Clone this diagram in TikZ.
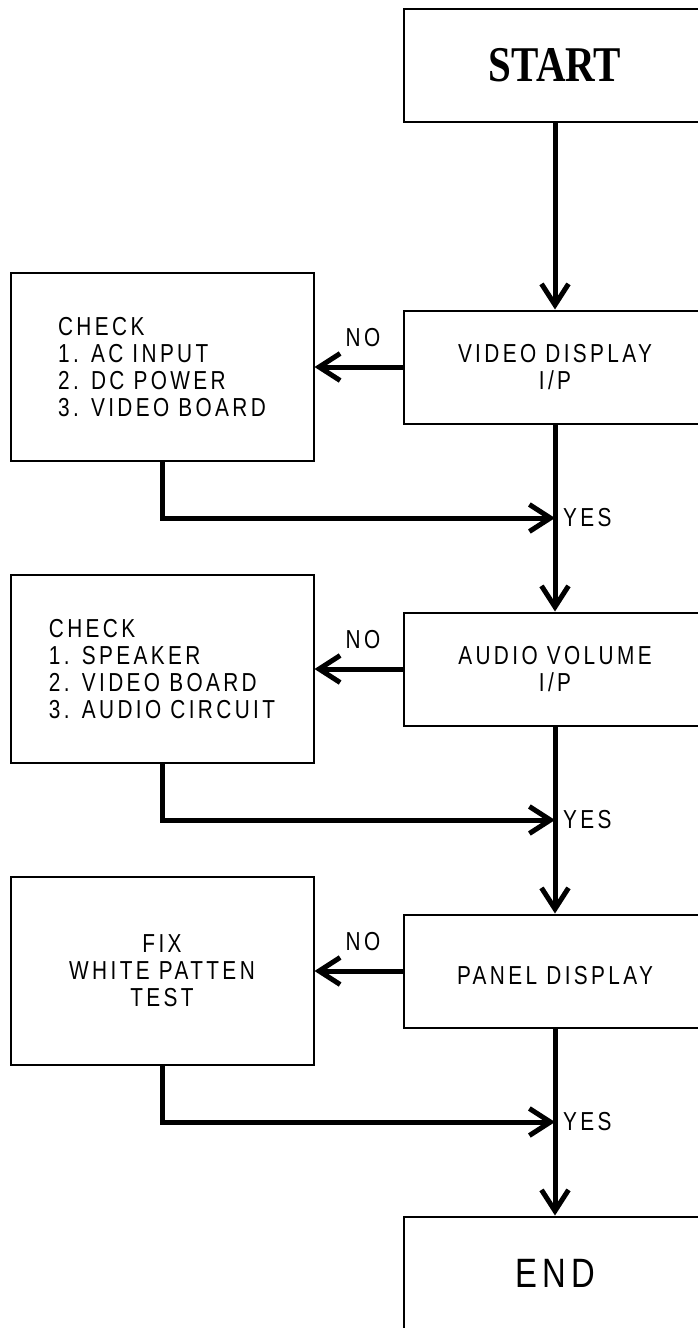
\documentclass[tikz,border=0pt]{standalone}
\usepackage{fontspec}
\usepackage{tikz}
\usetikzlibrary{arrows.meta, positioning, calc}
\newfontfamily\flowfont[FakeStretch=0.8, LetterSpace=13]{Liberation Sans}
\newfontfamily\startfont[FakeStretch=0.82]{Liberation Serif}

\begin{document}
\begin{tikzpicture}[x=1pt, y=-1pt, node distance=187pt and 88pt,
    every node/.style={font=\flowfont\fontsize{26}{27}\selectfont},
    mainbox/.style={draw, line width=2pt, minimum width=303pt, minimum height=113pt, align=center},
    lowtext/.style={execute at begin node={\rule{0pt}{28pt}}},
    checkbox/.style={draw, line width=2pt, minimum width=303pt, minimum height=188pt},
    flow/.style={line width=5pt, line join=miter, -{Straight Barb[length=21pt, width=27pt, sharp]}},
    tag/.style={inner sep=0pt}]
    \path[use as bounding box, clip] (0,0) rectangle (698,1328);
    % main column
    \node[mainbox, font=\startfont\bfseries\fontsize{50}{50}\selectfont] (start) at (555,65) {START};
    \node[mainbox, lowtext, below=of start] (video) {VIDEO DISPLAY\\I/P};
    \node[mainbox, lowtext, below=of video] (audio) {AUDIO VOLUME\\I/P};
    \node[mainbox, lowtext, below=of audio] (panel) {PANEL DISPLAY};
    \node[mainbox, below=of panel, font=\flowfont\fontsize{41}{41}\selectfont] (finish) {END};
    % checks on the left
    \node[checkbox, left=of video, align=left] (chk1) {CHECK\\1. AC INPUT\\2. DC POWER\\3. VIDEO BOARD};
    \node[checkbox, left=of audio, align=left] (chk2) {CHECK\\1. SPEAKER\\2. VIDEO BOARD\\3. AUDIO CIRCUIT};
    \node[checkbox, left=of panel, align=center] (chk3) {FIX\\WHITE PATTEN\\TEST};
    \coordinate (j1) at ($(video.south)!0.5!(audio.north)$);
    \coordinate (j2) at ($(audio.south)!0.5!(panel.north)$);
    \coordinate (j3) at ($(panel.south)!0.5!(finish.north)$);
    \draw[flow] (video) -- node[tag, above=18pt, pos=0.45] {NO} (chk1);
    \draw[flow] (audio) -- node[tag, above=18pt, pos=0.45] {NO} (chk2);
    \draw[flow] (panel) -- node[tag, above=18pt, pos=0.45] {NO} (chk3);
    \draw[flow] (chk1.south) |- (j1);
    \draw[flow] (chk2.south) |- (j2);
    \draw[flow] (chk3.south) |- (j3);
    \node[tag, right=8pt of j1] (yes1) {YES};
    \node[tag, right=8pt of j2] (yes2) {YES};
    \node[tag, right=8pt of j3] (yes3) {YES};
    \draw[flow] (start) -- (video);
    \draw[flow] (video) -- (audio);
    \draw[flow] (audio) -- (panel);
    \draw[flow] (panel) -- (finish);
\end{tikzpicture}
\end{document}
